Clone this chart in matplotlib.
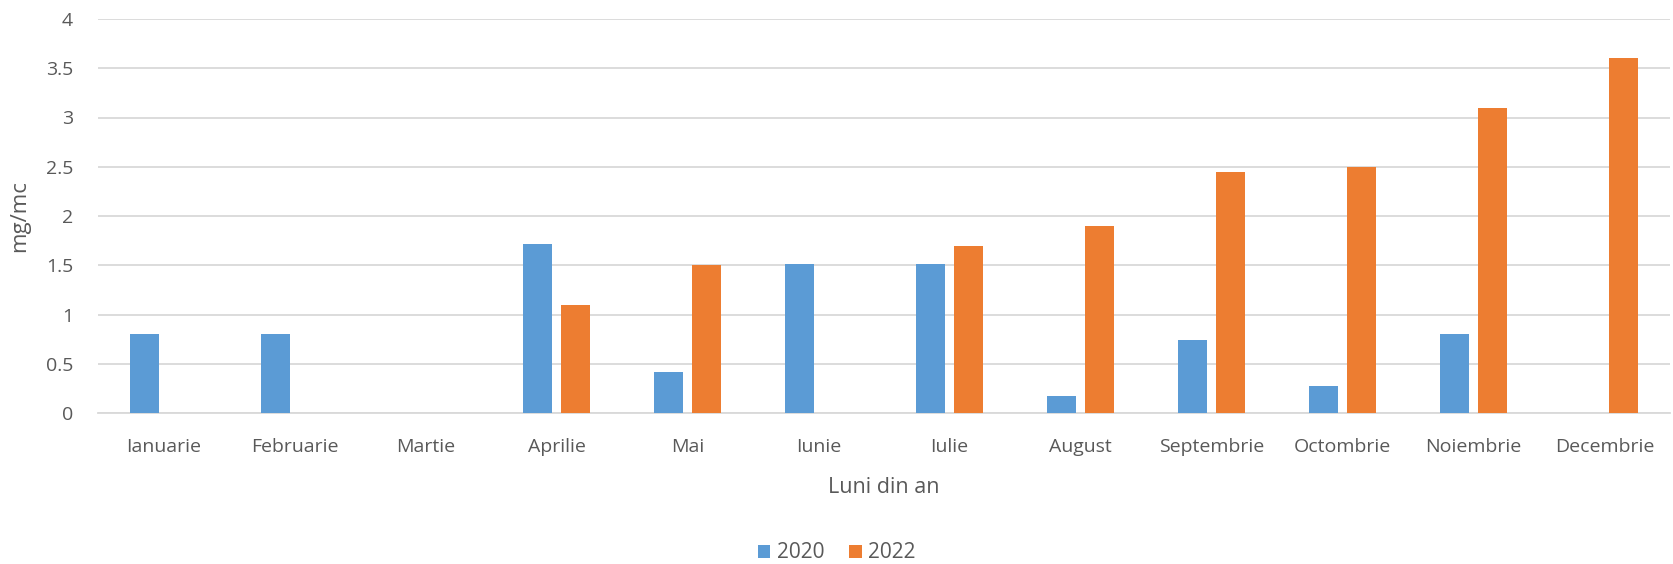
import matplotlib.pyplot as plt
import numpy as np

plt.rcParams['font.family'] = ['Open Sans', 'DejaVu Sans']

months = ["Ianuarie", "Februarie", "Martie", "Aprilie", "Mai", "Iunie",
          "Iulie", "August", "Septembrie", "Octombrie", "Noiembrie", "Decembrie"]
v2020 = [0.80, 0.80, 0, 1.72, 0.42, 1.51, 1.51, 0.17, 0.74, 0.27, 0.80, 0]
v2022 = [0, 0, 0, 1.10, 1.50, 0, 1.70, 1.90, 2.45, 2.50, 3.10, 3.60]
yticks = [0, 0.5, 1, 1.5, 2, 2.5, 3, 3.5, 4]
yticklabels = ["0", "0.5", "1", "1.5", "2", "2.5", "3", "3.5", "4"]

grey = "#595959"

fig = plt.figure(figsize=(16.73, 5.64), dpi=100)
ax = fig.add_axes([98 / 1673, 1 - 413 / 564, 1572 / 1673, 394 / 564])

x = np.arange(len(months))
w = 0.22
off = 0.145
ax.bar(x - off, v2020, w, color="#5B9BD5", label="2020", zorder=3)
ax.bar(x + off, v2022, w, color="#ED7D31", label="2022", zorder=3)

ax.set_xlim(-0.5, len(months) - 0.5)
ax.set_ylim(0, 4)
ax.set_yticks(yticks)
ax.set_yticklabels(yticklabels)
ax.set_xticks(x)
ax.set_xticklabels(months)
ax.grid(axis="y", color="#d9d9d9", linewidth=1.3, zorder=0)
for s in ["top", "right", "left"]:
    ax.spines[s].set_visible(False)
ax.spines["bottom"].set_color("#d9d9d9")
ax.spines["bottom"].set_linewidth(1.3)
ax.tick_params(axis="both", length=0, labelsize=14, colors=grey)
ax.tick_params(axis="x", pad=18)
ax.tick_params(axis="y", pad=18)

ax.set_xlabel("Luni din an", fontsize=15.5, color=grey, labelpad=15)
ax.set_ylabel("mg/mc", fontsize=16, color=grey, labelpad=11)

fig.legend(loc="center", bbox_to_anchor=(0.5, 1 - 553 / 564), ncol=2, frameon=False,
           fontsize=15, labelcolor=grey, handlelength=0.6, handleheight=0.6,
           handletextpad=0.3, columnspacing=1.2)

fig.savefig("out.png", dpi=100)
